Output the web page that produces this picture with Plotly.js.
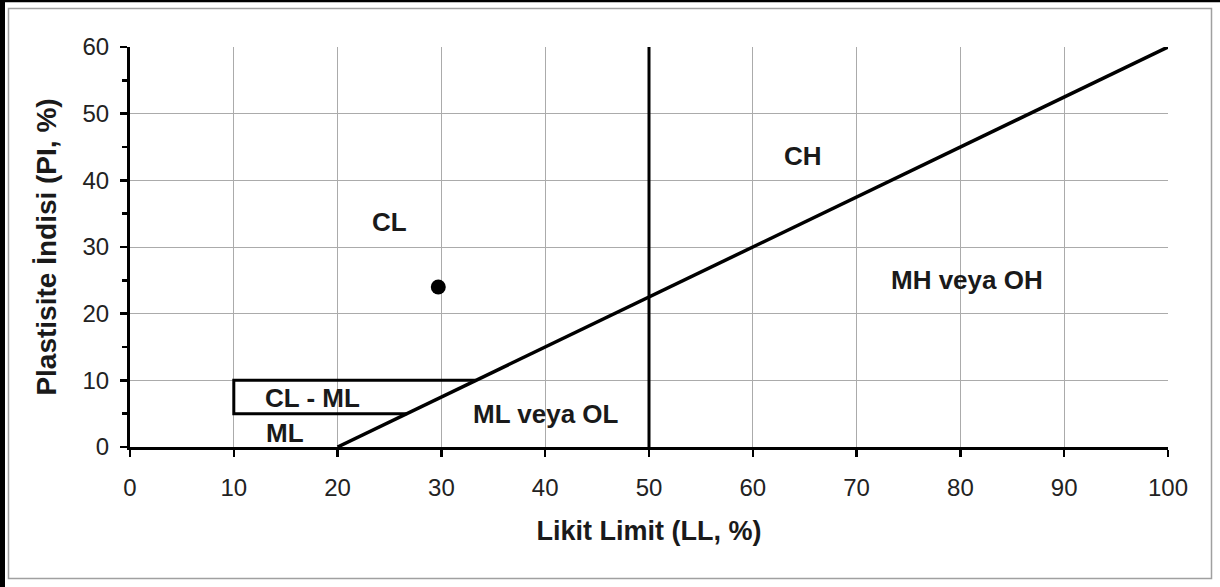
<!DOCTYPE html>
<html>
<head>
<meta charset="utf-8">
<script src="https://cdn.plot.ly/plotly-3.0.1.min.js"></script>
<style>html,body{margin:0;padding:0;background:#fff;}#chart{width:1220px;height:587px;}</style>
</head>
<body>
<div id="chart"></div>
<script>
// A-line (boundary between clays and silts)
const aLineX = [20, 100];
const aLineY = [0, 60];
// LL = 50 boundary
const llLineX = [50, 50];
const llLineY = [0, 60];
// CL-ML zone outline
const clmlX = [33.3, 10, 10, 26.7];
const clmlY = [10, 10, 5, 5];
// sample point
const sampleX = [29.7];
const sampleY = [24];
// zone labels
const zoneNames = ["CL", "CH", "MH veya OH", "ML veya OL", "CL - ML", "ML"];
const zoneX = [25, 64.8, 80.6, 40.1, 17.6, 14.9];
const zoneY = [33.7, 43.6, 25.0, 5.0, 7.3, 2.1];
// axis ticks
const xTicks = [0, 10, 20, 30, 40, 50, 60, 70, 80, 90, 100];
const yTicks = [0, 10, 20, 30, 40, 50, 60];

const FONT = "Liberation Sans, Arial, sans-serif";

const traces = [
  {x: aLineX, y: aLineY, mode: "lines", line: {color: "#000", width: 3.5}, hoverinfo: "skip"},
  {x: llLineX, y: llLineY, mode: "lines", line: {color: "#000", width: 3}, hoverinfo: "skip"},
  {x: clmlX, y: clmlY, mode: "lines", line: {color: "#000", width: 3}, hoverinfo: "skip"},
  {x: sampleX, y: sampleY, mode: "markers", marker: {color: "#000", size: 15, symbol: "circle"}}
];

const annotations = zoneNames.map((t, i) => ({
  x: zoneX[i], y: zoneY[i], xref: "x", yref: "y", text: t, showarrow: false,
  font: {family: FONT, size: 26, color: "#1a1a1a", weight: "bold"},
  xanchor: "center", yanchor: "middle"
}));

const px2x = p => (p - 130) / 1038;
const py2y = p => (447 - p) / 400;

const shapes = [
  {type: "rect", xref: "paper", yref: "paper", x0: px2x(8.5), x1: px2x(1211.5), y0: py2y(578.5), y1: py2y(8.5),
   line: {color: "#a0a0a0", width: 1.5}, fillcolor: "rgba(0,0,0,0)", layer: "below"},
  {type: "line", xref: "paper", yref: "paper", x0: px2x(2.5), x1: px2x(2.5), y0: py2y(587), y1: py2y(0),
   line: {color: "#000", width: 5}},
  {type: "line", xref: "paper", yref: "paper", x0: px2x(0), x1: px2x(1220), y0: py2y(1), y1: py2y(1),
   line: {color: "#000", width: 2.5}}
];

const layout = {
  width: 1220, height: 587,
  margin: {l: 130, r: 52, t: 47, b: 140},
  paper_bgcolor: "#fff", plot_bgcolor: "#fff",
  showlegend: false,
  font: {family: FONT, color: "#222"},
  xaxis: {
    range: [0, 100], tickvals: xTicks, ticktext: xTicks.map(String),
    showgrid: true, gridcolor: "#ababab", gridwidth: 1,
    zeroline: false, showline: true, linecolor: "#000", linewidth: 3,
    ticks: "outside", ticklen: 7, tickwidth: 2.5, tickcolor: "#000",
    tickfont: {family: FONT, size: 24, color: "#222"},
    ticklabelstandoff: 10,
    title: {text: "Likit Limit (LL, %)", font: {family: FONT, size: 27, color: "#1a1a1a", weight: "bold"}, standoff: 22},
    fixedrange: true, automargin: false
  },
  yaxis: {
    range: [0, 60], tickvals: yTicks, ticktext: yTicks.map(String),
    showgrid: true, gridcolor: "#ababab", gridwidth: 1,
    zeroline: false, showline: true, linecolor: "#000", linewidth: 3,
    ticks: "outside", ticklen: 7, tickwidth: 2.5, tickcolor: "#000",
    minor: {ticks: "outside", ticklen: 5, tickwidth: 2.5, tickcolor: "#000", dtick: 5, tick0: 0, showgrid: false},
    tickfont: {family: FONT, size: 24, color: "#222"},
    ticklabelstandoff: 6,
    title: {text: "Plastisite İndisi (PI, %)", font: {family: FONT, size: 28, color: "#1a1a1a", weight: "bold"}, standoff: 18},
    fixedrange: true, automargin: false
  },
  annotations: annotations,
  shapes: shapes
};

Plotly.newPlot("chart", traces, layout, {displayModeBar: false, staticPlot: true});
</script>
</body>
</html>
